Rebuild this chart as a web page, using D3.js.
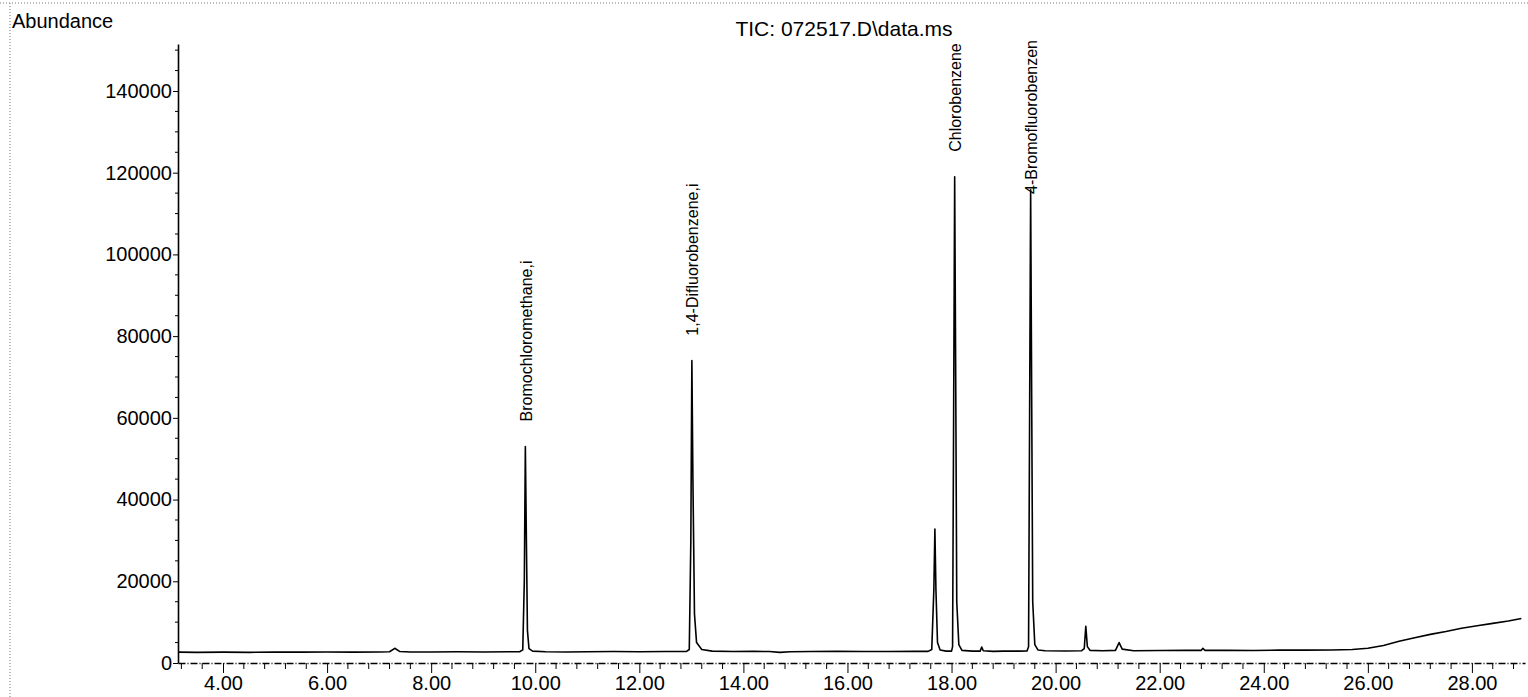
<!DOCTYPE html>
<html>
<head>
<meta charset="utf-8">
<script src="https://cdn.jsdelivr.net/npm/d3@7"></script>
<style>
  body { margin: 0; background: #fff; }
  svg { display: block; font-family: "Liberation Sans", Arial, sans-serif; }
</style>
</head>
<body>
<div id="container"></div>
<script>
/**
 * CONSTANTS AND GLOBALS
 * */
const width = 1528,
  height = 697,
  margin = { top: 44, bottom: 34, left: 178, right: 3 };

// retention time (min) and abundance of the TIC trace
const times = [
  3.15, 3.5, 4.0, 4.5, 5.0, 5.5, 6.0, 6.5, 7.0, 7.2, 7.3, 7.4, 7.6, 8.0, 8.5, 9.0, 9.5, 9.7,
  9.76, 9.79, 9.81, 9.83, 9.85, 9.88, 9.95, 10.2, 10.6, 11.0, 11.5, 12.0, 12.5, 12.9,
  12.96, 12.99, 13.01, 13.03, 13.06, 13.1, 13.2, 13.4, 13.8, 14.2, 14.5, 14.7, 14.9, 15.3,
  15.8, 16.3, 16.8, 17.3, 17.55, 17.62, 17.66, 17.68, 17.70, 17.73, 17.78, 17.9, 18.0,
  18.02, 18.04, 18.06, 18.08, 18.10, 18.14, 18.2, 18.4, 18.55, 18.58, 18.61, 18.8, 19.0,
  19.3, 19.45, 19.48, 19.5, 19.52, 19.54, 19.56, 19.6, 19.66, 19.8, 20.2, 20.5, 20.55,
  20.58, 20.61, 20.66, 20.9, 21.15, 21.22, 21.28, 21.5, 22.0, 22.5, 22.8, 22.83, 22.87,
  23.3, 23.8, 24.3, 24.8, 25.3, 25.7, 26.0, 26.3, 26.6, 26.9, 27.2, 27.5, 27.8, 28.1,
  28.4, 28.7, 28.95
];
const abundance = [
  2650, 2600, 2650, 2600, 2700, 2650, 2700, 2650, 2700, 2750, 3600, 2800, 2700, 2700, 2750, 2700, 2750, 2750,
  3200, 20000, 53000, 30000, 8000, 3500, 2900, 2750, 2700, 2750, 2800, 2750, 2800, 2800,
  3300, 30000, 74000, 45000, 12000, 5000, 3300, 2900, 2800, 2850, 2800, 2600, 2750, 2800,
  2850, 2800, 2800, 2850, 2850, 3300, 18000, 32800, 18000, 5000, 3200, 2900, 2900,
  4000, 60000, 119000, 70000, 15000, 4500, 3100, 2900, 2900, 3900, 3000, 2850, 2900,
  2900, 2950, 4000, 60000, 115800, 65000, 15000, 4500, 3200, 3000, 2950, 3000, 3500,
  9000, 4000, 3100, 3000, 3100, 5000, 3400, 3000, 3050, 3100, 3100, 3600, 3100,
  3100, 3050, 3150, 3150, 3200, 3300, 3600, 4300, 5300, 6200, 7000, 7700, 8500, 9100,
  9700, 10300, 10900
];

// labelled peaks
const peakNames = ["Bromochloromethane,i", "1,4-Difluorobenzene,i", "Chlorobenzene", "4-Bromofluorobenzen"];
const peakTimes = [9.81, 13.01, 18.06, 19.52];
const peakHeights = [53000, 74000, 119000, 115800];

const yTicks = [0, 20000, 40000, 60000, 80000, 100000, 120000, 140000];
const xTicks = [4, 6, 8, 10, 12, 14, 16, 18, 20, 22, 24, 26, 28];

const title = "TIC: 072517.D\\data.ms";

/**
 * SCALES
 * */
const x = d3.scaleLinear().domain([3.135, 29.02]).range([margin.left, width - margin.right]);
const y = d3.scaleLinear().domain([0, 151500]).range([height - margin.bottom, margin.top]);

const svg = d3.select("#container")
  .append("svg")
  .attr("width", width)
  .attr("height", height);

// dotted frame of the printout
svg.append("line")
  .attr("x1", 0).attr("x2", width).attr("y1", 3).attr("y2", 3)
  .attr("stroke", "#777").attr("stroke-dasharray", "1,2");
svg.append("line")
  .attr("x1", 10).attr("x2", 10).attr("y1", 3).attr("y2", height)
  .attr("stroke", "#777").attr("stroke-dasharray", "1,2");

// y axis
const yAxis = svg.append("g")
  .attr("transform", `translate(${margin.left},0)`)
  .call(d3.axisLeft(y).tickValues(yTicks).tickSize(5).tickSizeOuter(0).tickFormat(d3.format("d")));
yAxis.select(".domain").attr("stroke-width", 1.6);
yAxis.selectAll("text").attr("font-size", 20).attr("fill", "#000").attr("font-family", "Liberation Sans, Arial, sans-serif").attr("dx", 2);

// minor y ticks
svg.append("g")
  .selectAll("line")
  .data(d3.range(5000, 151000, 5000).filter(d => d % 20000 !== 0))
  .join("line")
  .attr("x1", margin.left - 3).attr("x2", margin.left)
  .attr("y1", d => y(d)).attr("y2", d => y(d))
  .attr("stroke", "#000");

// x axis
const xAxis = svg.append("g")
  .attr("transform", `translate(0,${y(0)})`)
  .call(d3.axisBottom(x).tickValues(xTicks).tickSize(10).tickSizeOuter(0).tickFormat(d3.format(".2f")));
xAxis.select(".domain").attr("stroke-width", 1.4).attr("stroke-dasharray", "7,2,1,2");
xAxis.selectAll("text").attr("font-size", 20).attr("fill", "#000").attr("font-family", "Liberation Sans, Arial, sans-serif").attr("dy", "0.72em");

// minor x ticks every 0.4 min
svg.append("g")
  .selectAll("line")
  .data(d3.range(3.2, 29.0, 0.4).filter(d => Math.abs(d / 2 - Math.round(d / 2)) > 0.01))
  .join("line")
  .attr("x1", d => x(d)).attr("x2", d => x(d))
  .attr("y1", y(0)).attr("y2", y(0) + 6)
  .attr("stroke", "#000");

// trace
const trace = times.map((t, i) => [t, abundance[i]]);
const line = d3.line().x(d => x(d[0])).y(d => y(d[1]));
svg.append("path")
  .datum(trace)
  .attr("d", line)
  .attr("fill", "none")
  .attr("stroke", "#000")
  .attr("stroke-width", 1.6)
  .attr("stroke-linejoin", "round");

// peak labels
peakNames.forEach((name, i) => {
  const px = x(peakTimes[i]);
  const t = svg.append("text")
    .text(name)
    .attr("font-size", 16)
    .attr("fill", "#000");
  const len = t.node().getComputedTextLength();
  const bottom = Math.max(y(peakHeights[i]) - 25, 40 + len);
  t.attr("transform", `translate(${px + 1},${bottom}) rotate(-90)`)
    .attr("dy", "0.35em");
});

// title and y label
svg.append("text")
  .attr("x", 844).attr("y", 36)
  .attr("text-anchor", "middle")
  .attr("font-size", 21)
  .text(title);

svg.append("text")
  .attr("x", 12).attr("y", 28)
  .attr("font-size", 20)
  .text("Abundance");
</script>
</body>
</html>
